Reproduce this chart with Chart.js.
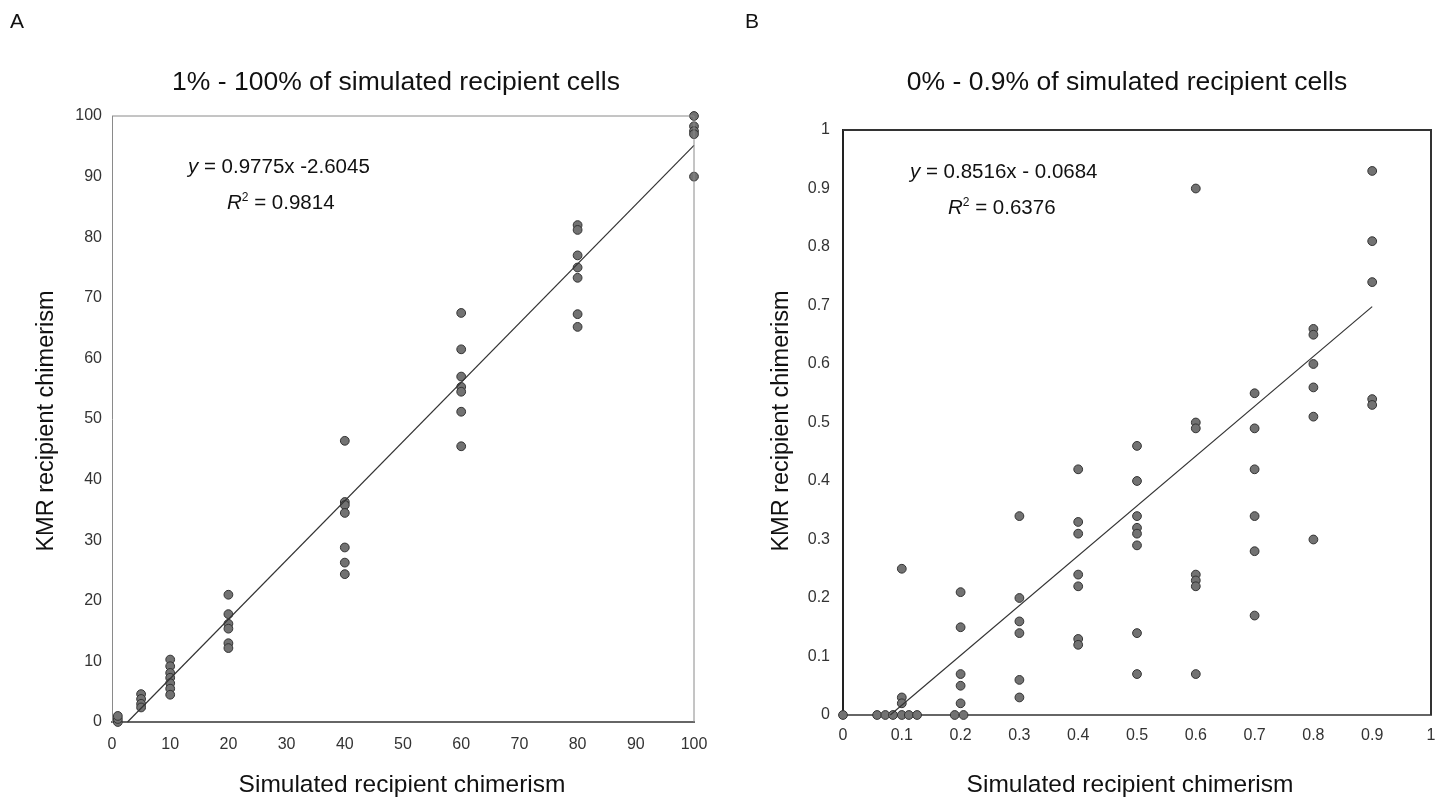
<!DOCTYPE html>
<html>
<head>
<meta charset="utf-8">
<script src="https://cdn.jsdelivr.net/npm/chart.js@4/dist/chart.umd.min.js"></script>
<style>
  html, body { margin: 0; padding: 0; background: #fff; }
  #wrap { position: relative; width: 1437px; height: 802px; overflow: hidden; }
  canvas { position: absolute; top: 0; }
  #chartA { left: 0; }
  #chartB { left: 718px; }
</style>
</head>
<body>
<div id="wrap">
  <canvas id="chartA" width="718" height="802"></canvas>
  <canvas id="chartB" width="719" height="802"></canvas>
</div>
<script>
// Panel A: 1% - 100% simulated recipient cells
const simA = [1, 1, 1,
  5, 5, 5, 5,
  10, 10, 10, 10, 10, 10, 10,
  20, 20, 20, 20, 20, 20,
  40, 40, 40, 40, 40, 40, 40,
  60, 60, 60, 60, 60, 60, 60,
  80, 80, 80, 80, 80, 80, 80,
  100, 100, 100, 100, 100];
const kmrA = [0, 0.5, 1.0,
  4.6, 3.8, 3.0, 2.4,
  10.3, 9.2, 8.1, 7.3, 6.4, 5.5, 4.5,
  21, 17.8, 16.2, 15.4, 13, 12.2,
  46.4, 36.3, 35.8, 34.5, 28.8, 26.3, 24.4,
  67.5, 61.5, 57, 55.3, 54.5, 51.2, 45.5,
  82, 81.2, 77, 75, 73.3, 67.3, 65.2,
  100, 98.3, 97.5, 97, 90];
const fitA = { slope: 0.9775, intercept: -2.6045, xMax: 100 };
const ticksA = { min: 0, max: 100, step: 10 };

// Panel B: 0% - 0.9% simulated recipient cells
const simB = [0,
  0.058, 0.072, 0.085, 0.1, 0.1, 0.1, 0.1, 0.112, 0.126,
  0.19, 0.2, 0.2, 0.2, 0.2, 0.2, 0.205,
  0.3, 0.3, 0.3, 0.3, 0.3, 0.3,
  0.4, 0.4, 0.4, 0.4, 0.4, 0.4, 0.4,
  0.5, 0.5, 0.5, 0.5, 0.5, 0.5, 0.5, 0.5,
  0.6, 0.6, 0.6, 0.6, 0.6, 0.6, 0.6,
  0.7, 0.7, 0.7, 0.7, 0.7, 0.7,
  0.8, 0.8, 0.8, 0.8, 0.8, 0.8,
  0.9, 0.9, 0.9, 0.9, 0.9];
const kmrB = [0,
  0, 0, 0, 0.25, 0.03, 0.02, 0, 0, 0,
  0, 0.21, 0.15, 0.07, 0.05, 0.02, 0,
  0.34, 0.2, 0.16, 0.14, 0.06, 0.03,
  0.42, 0.33, 0.31, 0.24, 0.22, 0.13, 0.12,
  0.46, 0.40, 0.34, 0.32, 0.31, 0.29, 0.14, 0.07,
  0.9, 0.5, 0.49, 0.24, 0.23, 0.22, 0.07,
  0.55, 0.49, 0.42, 0.34, 0.28, 0.17,
  0.66, 0.65, 0.6, 0.56, 0.51, 0.3,
  0.93, 0.81, 0.74, 0.54, 0.53];
const fitB = { slope: 0.8516, intercept: -0.0684, xMax: 0.9 };
const ticksB = { min: 0, max: 1, step: 0.1 };

const FONT = "'Liberation Sans', Arial, sans-serif";
Chart.defaults.font.family = FONT;
Chart.defaults.color = '#333';

function fitLine(fit) {
  const x0 = -fit.intercept / fit.slope;
  return [
    { x: x0, y: 0 },
    { x: fit.xMax, y: fit.slope * fit.xMax + fit.intercept }
  ];
}

// draws frame, panel letter, title, axis titles and the regression text
const panelText = {
  id: 'panelText',
  afterDraw(chart, args, o) {
    const ctx = chart.ctx;
    const a = chart.chartArea;
    ctx.save();
    // top + right frame
    ctx.strokeStyle = o.frameColor;
    ctx.lineWidth = o.frameWidth;
    ctx.beginPath();
    ctx.moveTo(a.left, a.top);
    ctx.lineTo(a.right, a.top);
    ctx.lineTo(a.right, a.bottom);
    ctx.stroke();

    ctx.fillStyle = '#111';
    ctx.textBaseline = 'middle';
    ctx.font = '21px ' + FONT;
    ctx.textAlign = 'left';
    ctx.fillText(o.letter, o.letterPos[0], o.letterPos[1]);

    ctx.font = '26.5px ' + FONT;
    ctx.textAlign = 'center';
    ctx.fillText(o.title, o.titlePos[0], o.titlePos[1]);

    ctx.font = '24.5px ' + FONT;
    ctx.fillText(o.xTitle, o.xTitlePos[0], o.xTitlePos[1]);
    ctx.font = '23.5px ' + FONT;
    ctx.save();
    ctx.translate(o.yTitlePos[0], o.yTitlePos[1]);
    ctx.rotate(-Math.PI / 2);
    ctx.fillText(o.yTitle, 0, 0);
    ctx.restore();

    // equation
    ctx.textAlign = 'left';
    let x = o.eqPos[0], y = o.eqPos[1];
    ctx.font = 'italic 20.5px ' + FONT;
    ctx.fillText('y', x, y);
    x += ctx.measureText('y').width;
    ctx.font = '20.5px ' + FONT;
    ctx.fillText(o.eqText, x, y);

    x = o.r2Pos[0]; y = o.r2Pos[1];
    ctx.font = 'italic 20.5px ' + FONT;
    ctx.fillText('R', x, y);
    x += ctx.measureText('R').width;
    ctx.font = '12px ' + FONT;
    ctx.fillText('2', x, y - 5);
    x += ctx.measureText('2').width;
    ctx.font = '20.5px ' + FONT;
    ctx.fillText(' = ' + o.r2Text, x, y);
    ctx.restore();
  }
};

function makeChart(id, xs, ys, fit, tk, lay, axes, text) {
  const pts = xs.map((x, i) => ({ x: x, y: ys[i] }));
  return new Chart(document.getElementById(id), {
    type: 'scatter',
    data: {
      datasets: [
        {
          type: 'line',
          data: fitLine(fit),
          borderColor: '#333',
          borderWidth: 1.2,
          pointRadius: 0,
          fill: false,
          clip: false
        },
        {
          data: pts,
          backgroundColor: '#727272',
          borderColor: '#333',
          borderWidth: 1,
          pointRadius: 4.4,
          clip: false
        }
      ]
    },
    options: {
      responsive: false,
      animation: false,
      events: [],
      layout: { padding: lay.padding },
      plugins: {
        legend: { display: false },
        tooltip: { enabled: false },
        panelText: text
      },
      scales: {
        x: {
          type: 'linear',
          min: tk.min, max: tk.max,
          afterFit: s => { s.height = lay.xHeight; s.paddingLeft = 0; s.paddingRight = 0; },
          grid: { display: false, drawTicks: false },
          border: { color: axes.xColor, width: axes.xWidth },
          ticks: {
            stepSize: tk.step, padding: lay.xPad,
            font: { size: 16 }, color: '#333',
            callback: v => String(+v.toFixed(1))
          }
        },
        y: {
          type: 'linear',
          min: tk.min, max: tk.max,
          afterFit: s => { s.width = lay.yWidth; s.paddingTop = 0; s.paddingBottom = 0; },
          grid: { display: false, drawTicks: false },
          border: { color: axes.yColor, width: axes.yWidth },
          ticks: {
            stepSize: tk.step, padding: lay.yPad,
            font: { size: 16 }, color: '#333',
            callback: v => String(+v.toFixed(1))
          }
        }
      }
    },
    plugins: [panelText]
  });
}

makeChart('chartA', simA, kmrA, fitA, ticksA,
  { padding: { top: 116, right: 24, left: 0, bottom: 0 }, xHeight: 80, yWidth: 112, xPad: 13, yPad: 10 },
  { xColor: '#666', xWidth: 2, yColor: '#8a8a8a', yWidth: 1 },
  {
    frameColor: '#8a8a8a', frameWidth: 1,
    letter: 'A', letterPos: [10, 22],
    title: '1% - 100% of simulated recipient cells', titlePos: [396, 83],
    xTitle: 'Simulated recipient chimerism', xTitlePos: [402, 785],
    yTitle: 'KMR recipient chimerism', yTitlePos: [47, 421],
    eqText: ' = 0.9775x -2.6045', eqPos: [188, 167],
    r2Text: '0.9814', r2Pos: [227, 203]
  });

makeChart('chartB', simB, kmrB, fitB, ticksB,
  { padding: { top: 130, right: 6, left: 0, bottom: 0 }, xHeight: 87, yWidth: 125, xPad: 11, yPad: 13 },
  { xColor: '#666', xWidth: 2, yColor: '#222', yWidth: 2 },
  {
    frameColor: '#333', frameWidth: 2,
    letter: 'B', letterPos: [27, 22],
    title: '0% - 0.9% of simulated recipient cells', titlePos: [409, 83],
    xTitle: 'Simulated recipient chimerism', xTitlePos: [412, 785],
    yTitle: 'KMR recipient chimerism', yTitlePos: [64, 421],
    eqText: ' = 0.8516x - 0.0684', eqPos: [192, 172],
    r2Text: '0.6376', r2Pos: [230, 208]
  });
</script>
</body>
</html>
